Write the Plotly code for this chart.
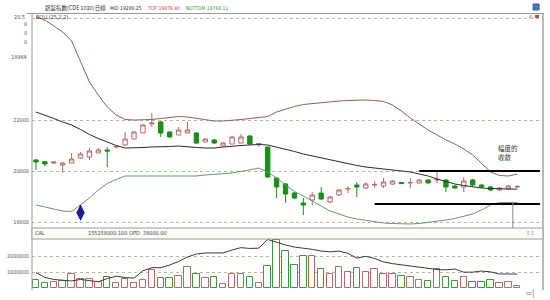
import plotly.graph_objects as go

# ---------------- data ----------------
days = list(range(55))

open_ = [20431, 20365, 20314, 20235, 20314, 20510, 20549, 20706, 20824, 20941,
         21020, 21255, 21490, 21843, 21922, 21529, 21412, 21490, 21490, 21137,
         21216, 20980, 21059, 21098, 21373, 21059, 20941, 19725, 19490, 19137,
         18745, 18863, 19137, 18784, 19059, 19294, 19451, 19333, 19451, 19412,
         19490, 19549, 19529, 19529, 19647, 19647, 19647, 19412, 19373, 19647,
         19451, 19373, 19255, 19294, 19373]
high = [20471, 20392, 20373, 20353, 20706, 20745, 20902, 20902, 20941, 20980,
        21529, 21569, 21843, 22275, 21961, 21569, 21725, 21922, 21529, 21294,
        21255, 21137, 21373, 21451, 21412, 21098, 20941, 19725, 19529, 19176,
        18941, 19176, 19373, 19020, 19294, 19412, 19569, 19549, 19608, 19725,
        19647, 19569, 19725, 19686, 19667, 19961, 19686, 19451, 19765, 19686,
        19490, 19412, 19373, 19451, 19451]
low = [20039, 20196, 20275, 19933, 20314, 20471, 20431, 20706, 20157, 20902,
       20980, 21255, 21490, 21725, 21333, 21294, 21412, 21490, 21059, 21137,
       21059, 20980, 21059, 21098, 21020, 20941, 19725, 18941, 18745, 18902,
       18275, 18667, 18863, 18745, 19020, 19137, 18980, 19294, 19333, 19333,
       19451, 19490, 19333, 19510, 19510, 19529, 19176, 19294, 19176, 19412,
       19333, 19216, 19216, 19255, 19333]
close = [20353, 20275, 20353, 20314, 20471, 20667, 20784, 20824, 20784, 20961,
         21255, 21529, 21804, 21882, 21490, 21333, 21608, 21608, 21098, 21255,
         21098, 21098, 21333, 21333, 21059, 21078, 19765, 19373, 19098, 18941,
         18667, 19059, 18902, 18980, 19255, 19314, 19373, 19490, 19471, 19569,
         19608, 19510, 19549, 19647, 19529, 19667, 19373, 19333, 19608, 19451,
         19373, 19255, 19333, 19412, 19392]

boll_upper = [26039, 25922, 25686, 25451, 25098, 24275, 23490, 22980, 22510, 22196,
              22020, 22000, 22000, 22020, 22059, 22098, 22137, 22118, 22059, 22000,
              21961, 21961, 21980, 22020, 22059, 22098, 22137, 22314, 22431, 22529,
              22608, 22647, 22686, 22725, 22745, 22765, 22784, 22784, 22765, 22725,
              22588, 22353, 22078, 21843, 21608, 21412, 21216, 21059, 20863, 20627,
              20275, 19961, 19824, 19804, 19878]
boll_mid = [22314, 22196, 22059, 21922, 21804, 21627, 21431, 21275, 21137, 21000,
            20902, 20902, 20922, 20941, 20941, 20961, 20980, 20941, 20922, 20902,
            20902, 20941, 20980, 21000, 21020, 21039, 21020, 20941, 20863, 20765,
            20667, 20588, 20510, 20451, 20373, 20294, 20216, 20157, 20118, 20078,
            20059, 20020, 19961, 19882, 19804, 19686, 19588, 19490, 19431, 19373,
            19333, 19314, 19294, 19294, 19289]
boll_lower = [18667, 18588, 18510, 18431, 18412, 18667, 18941, 19255, 19510, 19667,
              19804, 19804, 19804, 19804, 19804, 19804, 19784, 19784, 19804, 19843,
              19863, 19882, 19922, 19980, 20059, 20118, 19961, 19725, 19451, 19196,
              19020, 18824, 18608, 18431, 18314, 18196, 18118, 18059, 18000, 17961,
              17941, 17922, 17922, 17941, 17980, 18020, 18078, 18137, 18216, 18314,
              18471, 18667, 18765, 18765, 18768]

volume = [480000, 310000, 370000, 420000, 850000, 530000, 570000, 370000, 660000, 310000,
          570000, 310000, 480000, 1130000, 590000, 630000, 740000, 1320000, 870000, 590000,
          700000, 230000, 870000, 870000, 660000, 310000, 1390000, 3060000, 2370000, 1450000,
          2030000, 2030000, 1170000, 870000, 1300000, 1020000, 1240000, 980000, 1170000, 870000,
          870000, 740000, 660000, 480000, 440000, 1170000, 660000, 440000, 660000, 370000,
          340000, 480000, 310000, 370000, 120000]
open_interest = [970000, 650000, 520000, 450000, 420000, 520000, 450000, 370000, 580000, 730000,
                 640000, 610000, 1080000, 1280000, 1280000, 1450000, 1680000, 1970000, 2160000, 2230000,
                 2230000, 2230000, 2420000, 2570000, 2520000, 2540000, 3100000, 2900000, 2740000, 2610000,
                 2550000, 2460000, 2350000, 2300000, 2350000, 2200000, 1900000, 2010000, 1870000, 1650000,
                 1540000, 1460000, 1370000, 1320000, 1250000, 1160000, 1140000, 1190000, 990000, 990000,
                 1060000, 1010000, 870000, 870000, 870000]

price_ticks = [18000, 20000, 22000, 26000]
price_tick_text = ["18000", "20000", "22000", ""]
vol_ticks = [1000000, 2000000]
vol_tick_text = ["1000000", "2000000"]

signal_day, signal_price = 5, 18365
resistance_level, resistance_from = 20000, 43
support_level, support_from = 18706, 38
marker_day = 53.5

title_text = "鋁錠指數(CDE 1020)日線"
mid_text, top_text, bottom_text = "MID 19289.25", "TOP 19878.40", "BOTTOM 18768.11"
note_lines = ["幅度的", "收斂"]

# ---------------- figure ----------------
W, H = 550, 300
L, R, T, B = 27, 7, 14, 10
PW, PH = W - L - R, H - T - B


def fx(px):
    return (px - L) / PW


def fy(py):
    return (H - B - py) / PH


UP = "#b86868"
DOWN = "#149214"

fig = go.Figure()

fig.add_trace(go.Candlestick(
    x=days, open=open_, high=high, low=low, close=close,
    increasing=dict(line=dict(color=UP, width=1), fillcolor="white"),
    decreasing=dict(line=dict(color=DOWN, width=1), fillcolor=DOWN),
    whiskerwidth=0, xaxis="x", yaxis="y", showlegend=False, hoverinfo="skip"))

fig.add_trace(go.Scatter(x=days, y=boll_upper, mode="lines",
                         line=dict(color="#935c5c", width=1), xaxis="x", yaxis="y"))
fig.add_trace(go.Scatter(x=days, y=boll_mid, mode="lines",
                         line=dict(color="#2a2a2a", width=1), xaxis="x", yaxis="y"))
fig.add_trace(go.Scatter(x=days, y=boll_lower, mode="lines",
                         line=dict(color="#66996a", width=1), xaxis="x", yaxis="y"))

fig.add_trace(go.Scatter(x=[signal_day], y=[signal_price], mode="markers",
                         marker=dict(symbol="diamond-tall", size=12, color="#1c1c9a"),
                         xaxis="x", yaxis="y"))

bar_colors = [UP if c >= o else "#3a9a3a" for o, c in zip(open_, close)]
fig.add_trace(go.Bar(x=days, y=volume, width=0.72,
                     marker=dict(color="white", line=dict(color=bar_colors, width=1)),
                     xaxis="x2", yaxis="y2"))
fig.add_trace(go.Scatter(x=days, y=open_interest, mode="lines",
                         line=dict(color="#3a3a3a", width=1), xaxis="x2", yaxis="y2"))

main_bottom_px, strip_bottom_px = 228, 239
xr = [-(31 - L) / 9, (W - R - 31) / 9]
p_lo = 20000 - (main_bottom_px - 171) * 2000 / 51
p_hi = 20000 + (171 - T) * 2000 / 51
v_per_px = 1000000 / 15.5
v_lo = -(H - B - 287.5) * v_per_px
v_hi = (287.5 - strip_bottom_px) * v_per_px

cond = "DejaVu Sans Condensed, Liberation Sans Narrow, Liberation Sans"
axis_font = dict(family=cond, size=5.5, color="#555")

fig.update_layout(
    width=W, height=H, margin=dict(l=L, r=R, t=T, b=B),
    paper_bgcolor="white", plot_bgcolor="white", showlegend=False,
    bargap=0,
    xaxis=dict(domain=[0, 1], range=xr, anchor="y", showticklabels=False, showgrid=False,
               zeroline=False, rangeslider=dict(visible=False), fixedrange=True),
    xaxis2=dict(domain=[0, 1], range=xr, anchor="y2", matches="x", showticklabels=False,
                showgrid=False, zeroline=False),
    yaxis=dict(domain=[fy(main_bottom_px), 1], range=[p_lo, p_hi], tickvals=price_ticks,
               ticktext=price_tick_text, showgrid=True, gridcolor="#b9b99a", griddash="dot",
               gridwidth=1, zeroline=False, ticks="", tickfont=axis_font, ticklabelstandoff=2),
    yaxis2=dict(domain=[0, fy(strip_bottom_px)], range=[v_lo, v_hi], tickvals=vol_ticks,
                ticktext=vol_tick_text, showgrid=True, gridcolor="#b9b99a", griddash="dot",
                gridwidth=1, zeroline=False, ticks="", tickfont=axis_font, ticklabelstandoff=2),
)

frame = "#9a9a9a"
shapes = [
    dict(type="line", xref="paper", yref="paper", x0=0, x1=0, y0=0, y1=fy(13), line=dict(color=frame, width=1)),
    dict(type="line", xref="paper", yref="paper", x0=1, x1=1, y0=0, y1=fy(13), line=dict(color="#777", width=1)),
    dict(type="line", xref="paper", yref="paper", x0=fx(22), x1=1, y0=fy(13.5), y1=fy(13.5), line=dict(color=frame, width=1)),
    dict(type="rect", xref="paper", yref="paper", x0=0, x1=1, y0=fy(strip_bottom_px), y1=fy(main_bottom_px),
         fillcolor="#fbfbf7", line=dict(color=frame, width=1)),
    dict(type="line", xref="x", yref="y", x0=resistance_from, x1=xr[1] - 0.35, y0=resistance_level,
         y1=resistance_level, line=dict(color="black", width=2)),
    dict(type="line", xref="x", yref="y", x0=support_from, x1=xr[1] - 0.35, y0=support_level,
         y1=support_level, line=dict(color="black", width=2)),
    dict(type="line", xref="x", yref="y", x0=marker_day, x1=marker_day, y0=boll_lower[-1],
         y1=p_lo, line=dict(color="#888", width=1)),
    dict(type="rect", xref="paper", yref="paper", x0=fx(533), x1=fx(539), y0=fy(10), y1=fy(4),
         fillcolor="#4a78c8", line=dict(color="#2a58a8", width=1)),
    dict(type="rect", xref="paper", yref="paper", x0=fx(529), x1=fx(532), y0=fy(18), y1=fy(15),
         fillcolor="#c8c8c8", line=dict(width=0)),
    dict(type="rect", xref="paper", yref="paper", x0=fx(535), x1=fx(539), y0=fy(18), y1=fy(15),
         fillcolor="#b04a3a", line=dict(width=0)),
]
fig.update_layout(shapes=shapes)

small = dict(family=cond, size=5.5)
hdr = dict(family=cond, size=5)
cjk = dict(family="Noto Sans CJK TC", size=6.5, color="#333")


def ann(px, py, text, font, xanchor="left"):
    fig.add_annotation(x=fx(px), y=fy(py), xref="paper", yref="paper", text=text,
                       showarrow=False, xanchor=xanchor, yanchor="middle", font=font)


ann(38, 8, title_text, dict(family="Noto Sans CJK TC", size=5.5, color="#333"))
ann(104, 8, mid_text, dict(hdr, color="#333"))
ann(141, 8, top_text, dict(hdr, color="#d03a3a"))
ann(180, 8, bottom_text, dict(hdr, color="#3a9a3a"))
ann(29, 17, "BOLL(25,2,2)", dict(small, color="#444"))
ann(22, 17, "20.5", dict(small, color="#555"), "right")
for yy in (24, 33, 42):
    ann(24, yy, "0", dict(small, color="#555"), "right")
ann(24, 57, "18964", dict(small, color="#555"), "right")
ann(28, 233, "CAL", dict(small, color="#444"))
ann(82, 233, "155158000.100", dict(small, color="#444"))
ann(123, 233, "OPD", dict(small, color="#444"))
ann(137, 233, "38000.00", dict(small, color="#444"))
ann(536, 233, "⇕⇕", dict(small, color="#999"), "right")
ann(496, 148, note_lines[0], cjk)
ann(496, 157, note_lines[1], cjk)
ann(530, 293, "⇨|", dict(small, size=8, color="#777"), "center")

fig.write_html("out.html")
